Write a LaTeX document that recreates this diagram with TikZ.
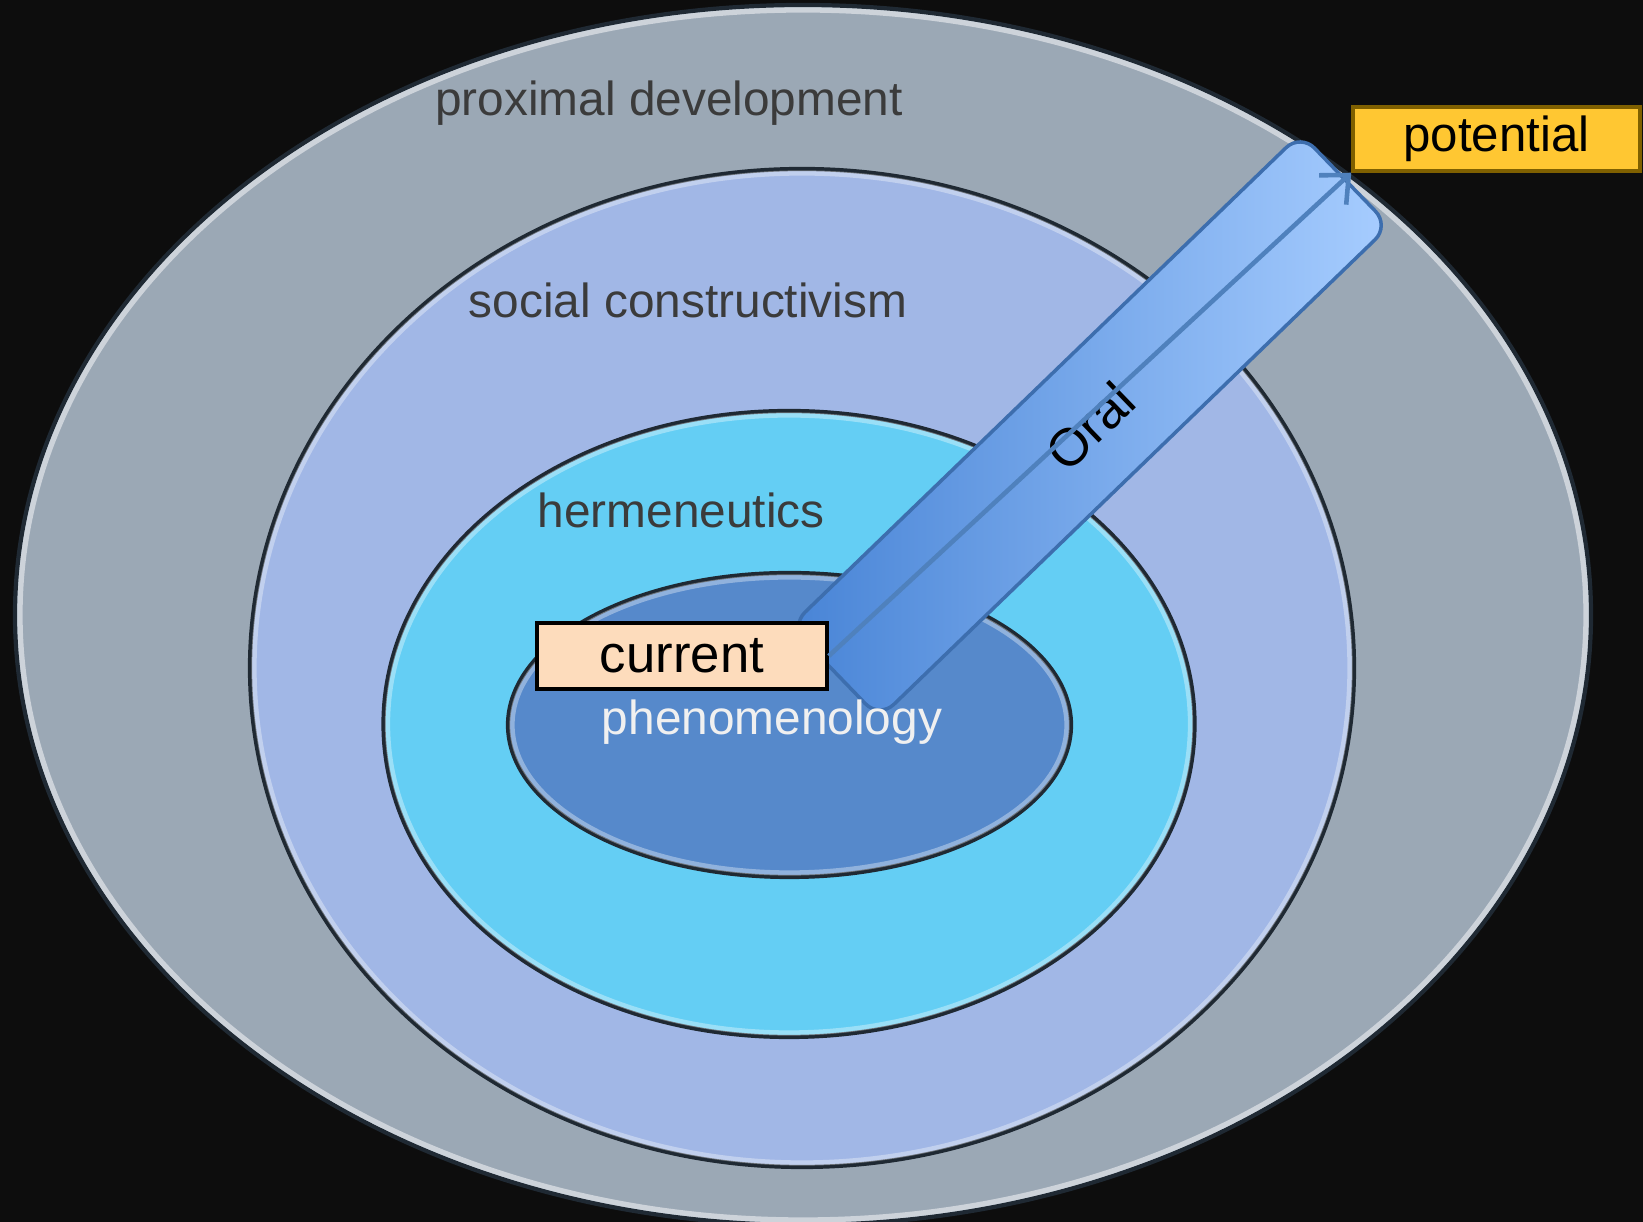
\documentclass[tikz,border=0pt]{standalone}
\usepackage{fontspec}
\setmainfont{Liberation Sans}
\usetikzlibrary{shapes.geometric,arrows.meta}

\definecolor{bgblack}{HTML}{0D0D0D}
\definecolor{proxgray}{HTML}{9BA8B5}
\definecolor{socialblue}{HTML}{A1B7E6}
\definecolor{hermcyan}{HTML}{64CEF4}
\definecolor{phenblue}{HTML}{5689CB}
\definecolor{zoneline}{HTML}{1F2933}
\definecolor{labeltext}{HTML}{3B3B3B}
\definecolor{bardark}{HTML}{4884D6}
\definecolor{barlight}{HTML}{A7CDFF}
\definecolor{baredge}{HTML}{3D6EAE}
\definecolor{arrowblue}{HTML}{4F81BD}
\definecolor{currentfill}{HTML}{FDDCBC}
\definecolor{potentialfill}{HTML}{FFC732}
\definecolor{potentialedge}{HTML}{7F6000}

\begin{document}
\begin{tikzpicture}
    \tikzset{zone/.style={draw=zoneline, ellipse, line width=1.2pt, inner sep=0pt},
             rim/.style={draw=white, draw opacity=0.35, ellipse, line width=1.5pt, inner sep=0pt},
             zone label/.style={text=labeltext, font=\fontsize{13.6}{16}\selectfont},
             level box/.style={draw, rectangle, line width=1pt, inner sep=0pt, minimum height=0.66cm}}
    \useasboundingbox (0,0) rectangle (16.43,12.22);
    \fill[bgblack] (0,0) rectangle (16.43,12.22);
    \node[zone, fill=proxgray, minimum width=15.76cm, minimum height=12.2cm] (prox) at (8.03,6.07) {};
    \node[rim, draw=proxgray!50!white, draw opacity=1, minimum width=15.66cm, minimum height=12.1cm] (proxrim) at (8.03,6.07) {};
    \node[zone, fill=socialblue, minimum width=11.04cm, minimum height=9.98cm] (social) at (8.02,5.54) {};
    \node[rim, minimum width=10.96cm, minimum height=9.9cm] (socialrim) at (8.02,5.54) {};
    \node[zone, fill=hermcyan, minimum width=8.11cm, minimum height=6.26cm] (herm) at (7.89,4.98) {};
    \node[rim, minimum width=8.03cm, minimum height=6.18cm] (hermrim) at (7.89,4.98) {};
    \node[zone, fill=phenblue, minimum width=5.63cm, minimum height=3.04cm] (phen) at (7.895,4.97) {};
    \node[rim, minimum width=5.55cm, minimum height=2.96cm] (phenrim) at (7.895,4.97) {};
    \node[draw=baredge, line width=1pt, rectangle, rounded corners=0.2cm, rotate=44,
          left color=bardark, right color=barlight, minimum width=7.09cm, minimum height=1.28cm,
          font=\fontsize{15}{18}\selectfont] (bar) at (10.90,7.96) {Oral};
    \node[zone label] (proxlabel) at (6.69,11.19) {proximal development};
    \node[zone label] (sociallabel) at (6.88,9.22) {social constructivism};
    \node[zone label] (hermlabel) at (6.81,7.12) {hermeneutics};
    \node[zone label, text=white!94!black] (phenlabel) at (7.72,5.00) {phenomenology};
    \node[level box, fill=currentfill, minimum width=2.90cm, font=\fontsize{15}{18}\selectfont] (current) at (6.82,5.66) {current};
    \node[level box, draw=potentialedge, fill=potentialfill, minimum width=2.87cm, minimum height=0.64cm, font=\fontsize{14}{17}\selectfont] (potential) at (14.965,10.83) {potential};
    \draw[-{Straight Barb[length=2.2mm, width=4mm]}, line width=1.3pt, draw=arrowblue] (current.east) -- (potential.south west);
\end{tikzpicture}
\end{document}
